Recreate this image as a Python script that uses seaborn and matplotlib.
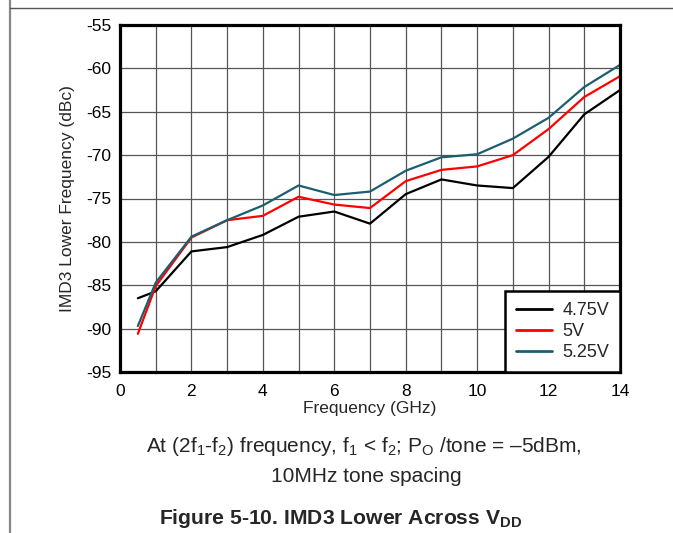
import numpy as np
import pandas as pd
import matplotlib
matplotlib.use('Agg')
import matplotlib.pyplot as plt
from matplotlib.lines import Line2D
from matplotlib.ticker import MultipleLocator
import seaborn as sns

FREQ_GHZ = [0.5, 1, 2, 3, 4, 5, 6, 7, 8, 9, 10, 11, 12, 13, 14]
IMD3_475V = [-86.5, -85.7, -81.1, -80.6, -79.2, -77.1, -76.5, -77.9, -74.5,
             -72.8, -73.5, -73.8, -70.2, -65.3, -62.5]
IMD3_500V = [-90.6, -85.1, -79.5, -77.5, -77.0, -74.8, -75.7, -76.1, -73.0,
             -71.7, -71.3, -70.0, -67.0, -63.3, -60.9]
IMD3_525V = [-89.7, -84.7, -79.4, -77.5, -75.8, -73.5, -74.6, -74.2, -71.8,
             -70.25, -69.9, -68.1, -65.7, -62.15, -59.6]
SERIES_NAMES = ['4.75V', '5V', '5.25V']
SERIES_COLORS = {'4.75V': '#000000', '5V': '#ff0000', '5.25V': '#1d5e6e'}
X_TICKS = [0, 2, 4, 6, 8, 10, 12, 14]
Y_TICKS = [-95, -90, -85, -80, -75, -70, -65, -60, -55]

sns.set_theme(style='white')
plt.rcParams['font.family'] = ['Liberation Sans', 'DejaVu Sans']
plt.rcParams['mathtext.fontset'] = 'custom'
plt.rcParams['mathtext.rm'] = 'Liberation Sans'
plt.rcParams['mathtext.bf'] = 'Liberation Sans:bold'
plt.rcParams['axes.unicode_minus'] = False

df = pd.DataFrame({
    'Frequency': FREQ_GHZ * 3,
    'IMD3': IMD3_475V + IMD3_500V + IMD3_525V,
    'Supply': sum([[name] * len(FREQ_GHZ) for name in SERIES_NAMES], []),
})

W, H = 673, 533
fig = plt.figure(figsize=(W / 100, H / 100), dpi=100)
ax = fig.add_axes([120 / W, 1 - 372 / H, 500 / W, 347 / H])

sns.lineplot(data=df, x='Frequency', y='IMD3', hue='Supply', hue_order=SERIES_NAMES,
             palette=SERIES_COLORS, linewidth=1.6, ax=ax, legend=False, zorder=3)

ax.set_xlim(0, 14)
ax.set_ylim(-95, -55)
ax.set_xticks(X_TICKS)
ax.set_yticks(Y_TICKS)
ax.xaxis.set_minor_locator(MultipleLocator(1))
ax.grid(True, which='both', axis='x', color='#555555', linewidth=0.9)
ax.grid(True, which='major', axis='y', color='#555555', linewidth=0.9)
ax.tick_params(axis='both', which='both', length=0, labelsize=12.5, colors='black')
ax.tick_params(axis='x', pad=9)
ax.tick_params(axis='y', pad=6)
for spine in ax.spines.values():
    spine.set_visible(True)
    spine.set_color('black')
    spine.set_linewidth(2.3)
    spine.set_zorder(4)
ax.set_xlabel('Frequency (GHz)', fontsize=12.5, labelpad=1)
ax.set_ylabel('IMD3 Lower Frequency (dBc)', fontsize=12.5, labelpad=8)

handles = [Line2D([], [], color=SERIES_COLORS[n], linewidth=2.0) for n in SERIES_NAMES]
leg = ax.legend(handles, SERIES_NAMES, loc='lower right', fontsize=13,
                frameon=True, fancybox=False, borderaxespad=0, handlelength=2.0,
                handletextpad=0.55, labelspacing=0.22, borderpad=0.6)
leg.get_frame().set_edgecolor('black')
leg.get_frame().set_linewidth(1.8)
leg.get_frame().set_alpha(1)
leg.set_zorder(5)

fig.text(364 / W, 1 - 447 / H,
         r'At (2f$_1$-f$_2$) frequency, f$_1$ < f$_2$; P$_\mathrm{O}$ /tone = –5dBm,',
         ha='center', va='center', fontsize=15)
fig.text(366 / W, 1 - 476 / H, '10MHz tone spacing', ha='center', va='center', fontsize=15)
fig.text(341 / W, 1 - 519 / H, r'Figure 5-10. IMD3 Lower Across V$_\mathbf{DD}$',
         ha='center', va='center', fontsize=15.2, fontweight='bold')

# page border lines
fig.add_artist(Line2D([10 / W, 10 / W], [0, 1], color='#888888', linewidth=1.6,
                      transform=fig.transFigure))
fig.add_artist(Line2D([10 / W, 1], [1 - 8 / H, 1 - 8 / H], color='#555555', linewidth=1.0,
                      transform=fig.transFigure))

fig.savefig('out.png', dpi=100)
